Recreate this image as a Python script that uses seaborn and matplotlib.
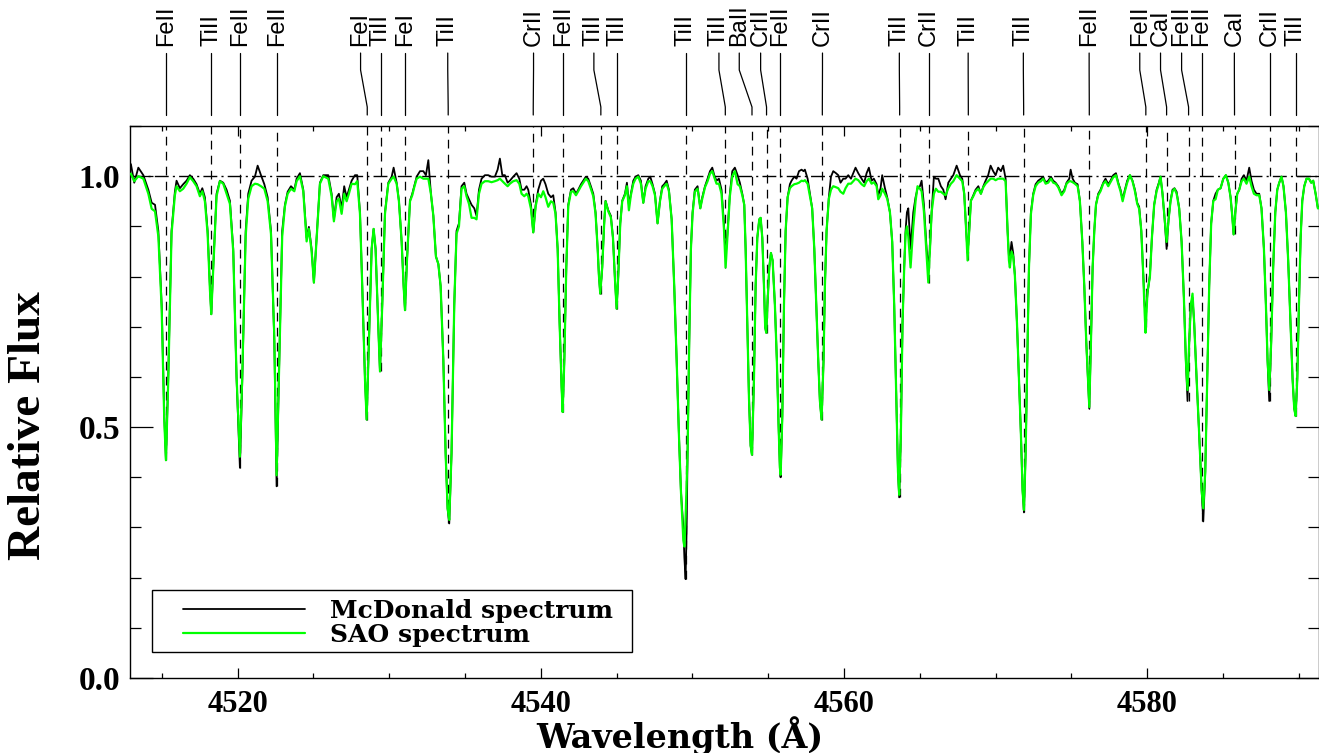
import matplotlib
matplotlib.use('Agg')
import pandas as pd
import matplotlib.pyplot as plt
from matplotlib.patches import Rectangle
from matplotlib.ticker import MultipleLocator, FormatStrFormatter
import seaborn as sns

# spectrum: wavelength (A), McDonald flux, SAO flux
wavelength = [
    4512.96, 4513.18, 4513.45, 4513.78, 4514.11, 4514.33, 4514.55, 4514.77, 4514.99, 4515.16,
    4515.27, 4515.42, 4515.64, 4515.86, 4515.97, 4516.19, 4516.41, 4516.63, 4516.85, 4517.07,
    4517.29, 4517.51, 4517.67, 4517.84, 4518.02, 4518.17, 4518.26, 4518.39, 4518.61, 4518.83,
    4519.05, 4519.27, 4519.49, 4519.71, 4519.93, 4520.15, 4520.31, 4520.53, 4520.70, 4520.92,
    4521.14, 4521.32, 4521.54, 4521.76, 4521.98, 4522.20, 4522.42, 4522.57, 4522.72, 4522.94,
    4523.12, 4523.30, 4523.52, 4523.74, 4523.89, 4524.11, 4524.33, 4524.55, 4524.70, 4524.88,
    4525.03, 4525.21, 4525.43, 4525.65, 4525.98, 4526.20, 4526.35, 4526.53, 4526.68, 4526.86,
    4527.03, 4527.19, 4527.34, 4527.52, 4527.74, 4527.89, 4528.07, 4528.22, 4528.40, 4528.51,
    4528.66, 4528.84, 4528.97, 4529.10, 4529.28, 4529.39, 4529.54, 4529.72, 4529.94, 4530.16,
    4530.29, 4530.49, 4530.64, 4530.82, 4530.95, 4531.04, 4531.17, 4531.37, 4531.52, 4531.65,
    4531.81, 4532.03, 4532.25, 4532.42, 4532.58, 4532.75, 4532.91, 4533.08, 4533.24, 4533.39,
    4533.57, 4533.72, 4533.85, 4533.96, 4534.11, 4534.29, 4534.44, 4534.60, 4534.77, 4534.95,
    4535.10, 4535.26, 4535.43, 4535.61, 4535.76, 4535.92, 4536.09, 4536.31, 4536.53, 4536.75,
    4536.97, 4537.15, 4537.30, 4537.46, 4537.63, 4537.81, 4537.96, 4538.18, 4538.40, 4538.58,
    4538.73, 4538.91, 4539.06, 4539.17, 4539.35, 4539.50, 4539.66, 4539.83, 4540.01, 4540.16,
    4540.31, 4540.49, 4540.67, 4540.82, 4540.97, 4541.11, 4541.24, 4541.37, 4541.44, 4541.55,
    4541.68, 4541.81, 4541.99, 4542.14, 4542.32, 4542.47, 4542.65, 4542.80, 4542.97, 4543.13,
    4543.30, 4543.46, 4543.61, 4543.75, 4543.83, 4543.92, 4544.05, 4544.18, 4544.27, 4544.45,
    4544.62, 4544.76, 4544.89, 4545.00, 4545.11, 4545.24, 4545.37, 4545.55, 4545.68, 4545.81,
    4545.94, 4546.10, 4546.25, 4546.43, 4546.60, 4546.76, 4546.91, 4547.09, 4547.22, 4547.37,
    4547.53, 4547.70, 4547.86, 4548.01, 4548.14, 4548.30, 4548.45, 4548.63, 4548.80, 4548.96,
    4549.11, 4549.24, 4549.40, 4549.47, 4549.55, 4549.62, 4549.68, 4549.79, 4549.90, 4550.01,
    4550.16, 4550.34, 4550.52, 4550.65, 4550.83, 4551.00, 4551.16, 4551.31, 4551.44, 4551.59,
    4551.75, 4551.92, 4552.08, 4552.19, 4552.32, 4552.47, 4552.63, 4552.80, 4552.98, 4553.13,
    4553.29, 4553.42, 4553.51, 4553.62, 4553.73, 4553.84, 4553.93, 4554.06, 4554.17, 4554.28,
    4554.41, 4554.50, 4554.61, 4554.72, 4554.80, 4554.87, 4554.96, 4555.07, 4555.18, 4555.29,
    4555.44, 4555.57, 4555.68, 4555.77, 4555.82, 4555.93, 4556.04, 4556.15, 4556.28, 4556.43,
    4556.54, 4556.72, 4556.87, 4557.03, 4557.20, 4557.33, 4557.42, 4557.60, 4557.75, 4557.90,
    4558.04, 4558.17, 4558.30, 4558.41, 4558.52, 4558.65, 4558.74, 4558.85, 4559.00, 4559.14,
    4559.29, 4559.47, 4559.62, 4559.77, 4559.95, 4560.10, 4560.28, 4560.46, 4560.61, 4560.76,
    4560.94, 4561.16, 4561.33, 4561.49, 4561.64, 4561.82, 4561.97, 4562.15, 4562.26, 4562.41,
    4562.52, 4562.70, 4562.85, 4563.03, 4563.18, 4563.31, 4563.45, 4563.56, 4563.64, 4563.75,
    4563.86, 4563.97, 4564.06, 4564.15, 4564.24, 4564.39, 4564.57, 4564.72, 4564.85, 4565.01,
    4565.12, 4565.27, 4565.45, 4565.56, 4565.67, 4565.78, 4565.93, 4566.06, 4566.22, 4566.39,
    4566.55, 4566.70, 4566.88, 4567.05, 4567.21, 4567.43, 4567.65, 4567.80, 4567.93, 4568.06,
    4568.15, 4568.26, 4568.37, 4568.53, 4568.68, 4568.86, 4569.03, 4569.19, 4569.34, 4569.51,
    4569.67, 4569.84, 4570.00, 4570.17, 4570.35, 4570.50, 4570.66, 4570.79, 4570.88, 4570.94,
    4571.05, 4571.16, 4571.27, 4571.41, 4571.54, 4571.67, 4571.78, 4571.87, 4571.98, 4572.09,
    4572.20, 4572.33, 4572.48, 4572.64, 4572.81, 4572.99, 4573.14, 4573.30, 4573.47, 4573.65,
    4573.80, 4573.96, 4574.13, 4574.35, 4574.53, 4574.68, 4574.86, 4574.95, 4575.08, 4575.23,
    4575.41, 4575.56, 4575.72, 4575.85, 4575.98, 4576.09, 4576.18, 4576.29, 4576.40, 4576.51,
    4576.62, 4576.77, 4576.92, 4577.10, 4577.25, 4577.43, 4577.58, 4577.76, 4577.94, 4578.09,
    4578.24, 4578.38, 4578.53, 4578.68, 4578.86, 4579.03, 4579.19, 4579.34, 4579.47, 4579.61,
    4579.74, 4579.83, 4579.89, 4580.02, 4580.18, 4580.31, 4580.46, 4580.62, 4580.77, 4580.88,
    4581.01, 4581.15, 4581.28, 4581.41, 4581.54, 4581.67, 4581.80, 4581.94, 4582.11, 4582.27,
    4582.42, 4582.55, 4582.66, 4582.77, 4582.88, 4582.99, 4583.10, 4583.26, 4583.43, 4583.59,
    4583.70, 4583.83, 4583.96, 4584.09, 4584.22, 4584.36, 4584.51, 4584.66, 4584.84, 4585.02,
    4585.19, 4585.35, 4585.50, 4585.61, 4585.70, 4585.81, 4585.94, 4586.07, 4586.23, 4586.38,
    4586.55, 4586.73, 4586.88, 4587.04, 4587.21, 4587.39, 4587.54, 4587.70, 4587.83, 4587.94,
    4588.05, 4588.18, 4588.31, 4588.45, 4588.58, 4588.71, 4588.86, 4588.99, 4589.15, 4589.30,
    4589.46, 4589.59, 4589.70, 4589.79, 4589.90, 4590.01, 4590.12, 4590.23, 4590.36, 4590.51,
    4590.67, 4590.82, 4590.95, 4591.11, 4591.26, 4591.45,
]

mcdonald_flux = [
    1.024, 0.987, 1.017, 1.002, 0.973, 0.947, 0.943, 0.891, 0.744, 0.522,
    0.434, 0.596, 0.891, 0.969, 0.991, 0.976, 0.984, 0.991, 1.002, 0.995,
    0.984, 0.965, 0.976, 0.958, 0.891, 0.781, 0.725, 0.818, 0.965, 0.991,
    0.987, 0.973, 0.951, 0.855, 0.596, 0.419, 0.596, 0.891, 0.965, 0.991,
    0.999, 1.021, 1.002, 0.984, 0.958, 0.891, 0.670, 0.382, 0.596, 0.891,
    0.943, 0.969, 0.980, 0.973, 0.995, 1.006, 0.973, 0.877, 0.899, 0.855,
    0.788, 0.877, 0.987, 1.002, 1.002, 0.965, 0.914, 0.958, 0.965, 0.936,
    0.980, 0.958, 0.973, 0.991, 1.002, 1.002, 0.928, 0.781, 0.596, 0.515,
    0.670, 0.855, 0.895, 0.855, 0.699, 0.611, 0.744, 0.928, 0.987, 0.999,
    1.017, 0.987, 0.951, 0.869, 0.781, 0.733, 0.832, 0.951, 0.965, 0.980,
    0.999, 1.010, 1.010, 1.002, 1.032, 0.965, 0.921, 0.840, 0.825, 0.781,
    0.633, 0.448, 0.338, 0.308, 0.448, 0.744, 0.891, 0.906, 0.980, 0.987,
    0.965, 0.954, 0.943, 0.936, 0.921, 0.973, 0.995, 1.002, 1.002, 0.999,
    0.999, 1.013, 1.035, 1.002, 1.002, 0.987, 0.991, 0.999, 1.006, 0.995,
    0.973, 0.973, 0.980, 0.973, 0.943, 0.888, 0.943, 0.973, 0.991, 0.995,
    0.984, 0.965, 0.958, 0.962, 0.928, 0.855, 0.707, 0.581, 0.530, 0.633,
    0.818, 0.943, 0.973, 0.976, 0.965, 0.973, 0.984, 0.991, 0.999, 0.995,
    0.980, 0.965, 0.928, 0.855, 0.803, 0.766, 0.818, 0.906, 0.951, 0.932,
    0.921, 0.877, 0.795, 0.736, 0.803, 0.906, 0.951, 0.965, 0.987, 0.943,
    0.965, 0.991, 0.999, 1.002, 0.991, 0.947, 0.980, 0.995, 0.999, 0.984,
    0.965, 0.906, 0.951, 0.980, 0.984, 0.991, 0.973, 0.914, 0.781, 0.633,
    0.485, 0.374, 0.300, 0.240, 0.197, 0.300, 0.448, 0.670, 0.855, 0.928,
    0.973, 0.980, 0.936, 0.958, 0.980, 0.995, 1.010, 1.017, 1.002, 0.991,
    0.995, 0.973, 0.906, 0.840, 0.891, 0.965, 1.010, 1.017, 1.002, 0.987,
    0.965, 0.943, 0.855, 0.707, 0.559, 0.463, 0.445, 0.596, 0.781, 0.877,
    0.914, 0.917, 0.877, 0.781, 0.699, 0.688, 0.751, 0.818, 0.847, 0.832,
    0.744, 0.633, 0.507, 0.419, 0.400, 0.522, 0.744, 0.891, 0.958, 0.984,
    0.991, 0.999, 0.995, 1.010, 1.013, 1.010, 1.013, 0.995, 0.965, 0.936,
    0.855, 0.744, 0.633, 0.552, 0.515, 0.633, 0.781, 0.891, 0.958, 0.999,
    1.010, 1.006, 1.002, 0.987, 0.995, 0.995, 1.002, 0.995, 1.006, 1.017,
    1.006, 0.995, 0.987, 1.006, 1.017, 0.991, 0.995, 0.984, 0.962, 0.976,
    1.002, 0.976, 0.958, 0.928, 0.869, 0.744, 0.559, 0.411, 0.360, 0.485,
    0.707, 0.818, 0.891, 0.928, 0.936, 0.855, 0.928, 0.958, 0.975, 0.980,
    0.991, 0.943, 0.855, 0.818, 0.855, 0.928, 0.999, 0.995, 0.995, 0.980,
    0.973, 0.954, 0.987, 0.995, 1.002, 1.021, 1.002, 0.995, 0.965, 0.891,
    0.847, 0.891, 0.951, 0.962, 0.973, 0.980, 0.965, 0.980, 0.991, 1.002,
    1.021, 1.010, 1.002, 1.017, 1.010, 1.021, 0.995, 0.891, 0.840, 0.840,
    0.869, 0.847, 0.803, 0.707, 0.596, 0.485, 0.374, 0.330, 0.448, 0.633,
    0.818, 0.928, 0.965, 0.984, 0.991, 0.995, 0.999, 0.987, 0.991, 0.999,
    0.991, 0.987, 0.980, 0.965, 0.973, 0.987, 0.995, 1.013, 0.995, 0.987,
    0.984, 0.951, 0.869, 0.781, 0.670, 0.596, 0.537, 0.670, 0.818, 0.891,
    0.943, 0.965, 0.973, 0.987, 0.995, 0.984, 0.991, 1.002, 1.006, 0.987,
    0.973, 0.954, 0.973, 0.991, 1.002, 0.991, 0.973, 0.947, 0.939, 0.891,
    0.803, 0.744, 0.722, 0.766, 0.803, 0.877, 0.943, 0.973, 0.987, 0.999,
    0.965, 0.914, 0.855, 0.914, 0.951, 0.973, 0.976, 0.969, 0.936, 0.869,
    0.758, 0.633, 0.552, 0.670, 0.744, 0.758, 0.707, 0.596, 0.485, 0.374,
    0.312, 0.411, 0.596, 0.781, 0.906, 0.951, 0.965, 0.973, 0.976, 0.995,
    1.002, 0.987, 0.958, 0.921, 0.884, 0.928, 0.965, 0.973, 0.995, 1.002,
    0.991, 1.017, 0.991, 0.973, 0.965, 0.965, 0.936, 0.855, 0.744, 0.633,
    0.552, 0.670, 0.818, 0.928, 0.973, 0.987, 0.999, 0.980, 0.928, 0.832,
    0.699, 0.596, 0.537, 0.522, 0.596, 0.744, 0.877, 0.951, 0.980, 0.995,
    0.995, 0.987, 0.991, 0.965, 0.936, 0.940,
]

sao_flux = [
    1.005, 0.990, 1.000, 0.995, 0.965, 0.935, 0.930, 0.880, 0.735, 0.515,
    0.434, 0.590, 0.885, 0.962, 0.980, 0.970, 0.975, 0.985, 0.998, 0.990,
    0.980, 0.960, 0.970, 0.950, 0.885, 0.775, 0.725, 0.815, 0.960, 0.990,
    0.985, 0.965, 0.945, 0.850, 0.600, 0.441, 0.610, 0.880, 0.955, 0.980,
    0.985, 0.984, 0.980, 0.975, 0.950, 0.885, 0.680, 0.404, 0.600, 0.880,
    0.940, 0.965, 0.975, 0.970, 0.990, 1.000, 0.970, 0.870, 0.895, 0.850,
    0.788, 0.875, 0.985, 1.000, 0.995, 0.960, 0.910, 0.950, 0.955, 0.925,
    0.965, 0.950, 0.965, 0.985, 0.984, 0.990, 0.925, 0.781, 0.596, 0.515,
    0.670, 0.855, 0.895, 0.855, 0.699, 0.611, 0.744, 0.925, 0.985, 0.995,
    0.999, 0.985, 0.950, 0.869, 0.781, 0.733, 0.832, 0.950, 0.962, 0.978,
    0.995, 0.999, 0.995, 0.995, 0.995, 0.965, 0.921, 0.840, 0.825, 0.781,
    0.633, 0.448, 0.338, 0.315, 0.448, 0.744, 0.885, 0.900, 0.975, 0.980,
    0.960, 0.945, 0.917, 0.917, 0.914, 0.965, 0.985, 0.990, 0.990, 0.988,
    0.990, 0.992, 0.995, 0.990, 0.985, 0.980, 0.985, 0.990, 0.992, 0.985,
    0.965, 0.960, 0.965, 0.960, 0.935, 0.888, 0.940, 0.965, 0.958, 0.970,
    0.958, 0.939, 0.950, 0.947, 0.925, 0.855, 0.707, 0.581, 0.530, 0.633,
    0.818, 0.940, 0.969, 0.970, 0.962, 0.970, 0.980, 0.987, 0.995, 0.990,
    0.975, 0.960, 0.925, 0.855, 0.803, 0.766, 0.818, 0.906, 0.950, 0.930,
    0.918, 0.877, 0.795, 0.736, 0.803, 0.906, 0.950, 0.962, 0.980, 0.932,
    0.962, 0.985, 0.995, 0.999, 0.985, 0.947, 0.975, 0.990, 0.990, 0.980,
    0.962, 0.906, 0.950, 0.975, 0.980, 0.985, 0.970, 0.914, 0.781, 0.633,
    0.485, 0.374, 0.275, 0.262, 0.320, 0.390, 0.448, 0.670, 0.855, 0.925,
    0.969, 0.975, 0.936, 0.955, 0.978, 0.990, 1.005, 1.010, 0.998, 0.985,
    0.985, 0.965, 0.895, 0.818, 0.885, 0.960, 1.000, 1.010, 0.984, 0.980,
    0.962, 0.943, 0.855, 0.707, 0.559, 0.463, 0.445, 0.596, 0.781, 0.877,
    0.914, 0.917, 0.877, 0.781, 0.699, 0.688, 0.751, 0.818, 0.847, 0.832,
    0.744, 0.633, 0.507, 0.419, 0.405, 0.522, 0.744, 0.891, 0.958, 0.976,
    0.980, 0.984, 0.985, 0.987, 0.991, 0.990, 0.992, 0.985, 0.960, 0.936,
    0.855, 0.744, 0.633, 0.552, 0.515, 0.633, 0.781, 0.891, 0.955, 0.973,
    0.980, 0.978, 0.976, 0.969, 0.965, 0.976, 0.985, 0.985, 0.990, 0.995,
    0.992, 0.984, 0.980, 0.990, 0.995, 0.985, 0.988, 0.980, 0.954, 0.962,
    0.975, 0.965, 0.955, 0.928, 0.869, 0.744, 0.559, 0.411, 0.365, 0.485,
    0.707, 0.818, 0.885, 0.900, 0.880, 0.818, 0.899, 0.950, 0.980, 0.975,
    0.970, 0.930, 0.840, 0.788, 0.855, 0.928, 0.965, 0.975, 0.969, 0.969,
    0.965, 0.962, 0.976, 0.985, 0.990, 1.002, 0.995, 0.990, 0.965, 0.891,
    0.832, 0.891, 0.951, 0.960, 0.970, 0.975, 0.965, 0.978, 0.985, 0.990,
    0.995, 0.995, 0.992, 0.995, 0.995, 0.995, 0.990, 0.891, 0.832, 0.818,
    0.850, 0.840, 0.803, 0.707, 0.596, 0.485, 0.374, 0.335, 0.448, 0.633,
    0.818, 0.925, 0.962, 0.980, 0.987, 0.990, 0.995, 0.985, 0.987, 0.995,
    0.987, 0.985, 0.978, 0.962, 0.970, 0.985, 0.990, 0.990, 0.988, 0.985,
    0.980, 0.950, 0.869, 0.781, 0.670, 0.596, 0.540, 0.670, 0.818, 0.891,
    0.943, 0.962, 0.970, 0.985, 0.990, 0.980, 0.988, 0.998, 1.002, 0.985,
    0.970, 0.950, 0.970, 0.987, 1.002, 0.990, 0.970, 0.945, 0.935, 0.891,
    0.803, 0.729, 0.688, 0.770, 0.800, 0.877, 0.943, 0.970, 0.985, 0.999,
    0.965, 0.914, 0.869, 0.914, 0.950, 0.970, 0.975, 0.965, 0.936, 0.869,
    0.758, 0.633, 0.574, 0.670, 0.744, 0.766, 0.707, 0.596, 0.485, 0.374,
    0.338, 0.411, 0.596, 0.781, 0.906, 0.951, 0.954, 0.973, 0.976, 0.995,
    1.002, 0.987, 0.958, 0.921, 0.884, 0.928, 0.965, 0.973, 0.990, 0.995,
    0.985, 0.999, 0.980, 0.965, 0.962, 0.962, 0.936, 0.855, 0.744, 0.633,
    0.574, 0.670, 0.818, 0.928, 0.973, 0.987, 0.999, 0.980, 0.928, 0.832,
    0.699, 0.596, 0.537, 0.522, 0.596, 0.744, 0.877, 0.951, 0.980, 0.995,
    0.995, 0.987, 0.991, 0.965, 0.936, 0.936,
]

# identified lines: name, line position, label position, depth of the dashed marker
line_names = ['FeII', 'TiII', 'FeII', 'FeII', 'FeI', 'TiII', 'FeI', 'TiII', 'CrII', 'FeII',
              'TiII', 'TiII', 'TiII', 'TiII', 'BaII', 'CrII', 'FeII', 'CrII', 'TiII', 'CrII',
              'TiII', 'TiII', 'FeII', 'FeII', 'CaI', 'FeII', 'FeII', 'CaI', 'CrII', 'TiII']
line_wave = [4515.29, 4518.26, 4520.17, 4522.59, 4528.55, 4529.43, 4531.04, 4533.89, 4539.50, 4541.44,
             4543.96, 4545.04, 4549.57, 4552.17, 4553.93, 4554.89, 4555.80, 4558.57, 4563.67, 4565.61,
             4568.20, 4571.85, 4576.18, 4579.91, 4581.28, 4582.73, 4583.59, 4585.76, 4588.09, 4589.81]
label_wave = [4515.29, 4518.26, 4520.17, 4522.59, 4528.11, 4529.43, 4531.04, 4533.86, 4539.52, 4541.44,
              4543.50, 4545.04, 4549.57, 4551.75, 4553.09, 4554.50, 4555.80, 4558.58, 4563.65, 4565.61,
              4568.19, 4571.83, 4576.17, 4579.51, 4580.88, 4582.27, 4583.59, 4585.75, 4588.09, 4589.81]
line_depth = [0.434, 0.725, 0.419, 0.382, 0.515, 0.611, 0.733, 0.308, 0.888, 0.530,
              0.766, 0.736, 0.197, 0.818, 0.445, 0.688, 0.400, 0.515, 0.360, 0.788,
              0.832, 0.330, 0.537, 0.700, 0.860, 0.552, 0.312, 0.884, 0.552, 0.522]

sns.set_style('ticks')
plt.rcParams['font.family'] = ['Liberation Serif', 'DejaVu Serif']
plt.rcParams['text.color'] = 'black'
plt.rcParams['axes.labelcolor'] = 'black'
plt.rcParams['xtick.color'] = 'black'
plt.rcParams['ytick.color'] = 'black'

df = pd.DataFrame({'wavelength': wavelength,
                   'McDonald spectrum': mcdonald_flux,
                   'SAO spectrum': sao_flux})

W, H = 1319, 753
fig = plt.figure(figsize=(W / 100, H / 100), dpi=100)
ax = fig.add_axes([130 / W, 75 / H, 1188.5 / W, 552 / H])

# line markers
ax.vlines(line_wave, line_depth, 1.1, colors='black', linestyles=(0, (7, 5)), lw=0.9, zorder=1)
ax.axhline(1.0, color='black', lw=1.0, ls=(0, (10, 3, 1.5, 3)), zorder=1)

sns.lineplot(data=df, x='wavelength', y='McDonald spectrum', color='black', lw=1.3,
             ax=ax, label='McDonald spectrum', zorder=2)
sns.lineplot(data=df, x='wavelength', y='SAO spectrum', color='#00ff00', lw=1.6,
             ax=ax, label='SAO spectrum', zorder=3)

ax.set_xlim(4512.9, 4591.3)
ax.set_ylim(0, 1.1)

# labels above the frame, with connector ticks
xt = ax.get_xaxis_transform()
for name, lw_, tw in zip(line_names, line_wave, label_wave):
    ax.plot([tw, tw, lw_, lw_], [1.1322, 1.1014, 1.0344, 1.0199], transform=xt,
            clip_on=False, color='black', lw=0.9)
    ax.text(tw, 1.1450, name, rotation=90, ha='center', va='bottom', transform=xt,
            family=['Liberation Sans', 'DejaVu Sans'], fontsize=17)

ax.xaxis.set_major_locator(MultipleLocator(20))
ax.xaxis.set_minor_locator(MultipleLocator(5))
ax.yaxis.set_major_locator(MultipleLocator(0.5))
ax.yaxis.set_minor_locator(MultipleLocator(0.1))
ax.yaxis.set_major_formatter(FormatStrFormatter('%.1f'))
ax.tick_params(which='both', direction='in', top=True, right=True, width=0.9, colors='black')
ax.tick_params(axis='x', which='major', length=7.5, pad=9, labelsize=22)
ax.tick_params(axis='x', which='minor', length=3.5)
ax.tick_params(axis='y', which='major', length=16.5, pad=7, labelsize=24)
ax.tick_params(axis='y', which='minor', length=8)
for lab in ax.get_xticklabels() + ax.get_yticklabels():
    lab.set_fontweight('bold')
for sp in ax.spines.values():
    sp.set_linewidth(1.0)
    sp.set_color('black')

ax.set_xlabel('Wavelength (Å)', fontsize=24, fontweight='bold', family=['DejaVu Serif'])
ax.xaxis.label.set_va('baseline')
ax.xaxis.set_label_coords(0.463, -0.1265)
ax.set_ylabel('Relative Flux', fontsize=34, fontweight='bold')
ax.yaxis.set_label_coords(-0.067, 0.458)

# legend box drawn as a plain frame, legend entries inside it
ax.add_patch(Rectangle((22 / 1189, 26 / 552), 480 / 1189, 62 / 552, transform=ax.transAxes,
                       facecolor='white', edgecolor='black', lw=1.0, zorder=4))
leg = ax.legend(loc='lower left', bbox_to_anchor=(53 / 1189, 31 / 552), frameon=False,
                prop={'family': 'DejaVu Serif', 'weight': 'bold', 'size': 18},
                handlelength=4.9, handletextpad=1.0, labelspacing=0.0, borderpad=0.0,
                borderaxespad=0)
leg.set_zorder(5)

fig.savefig('out.png', dpi=100)
